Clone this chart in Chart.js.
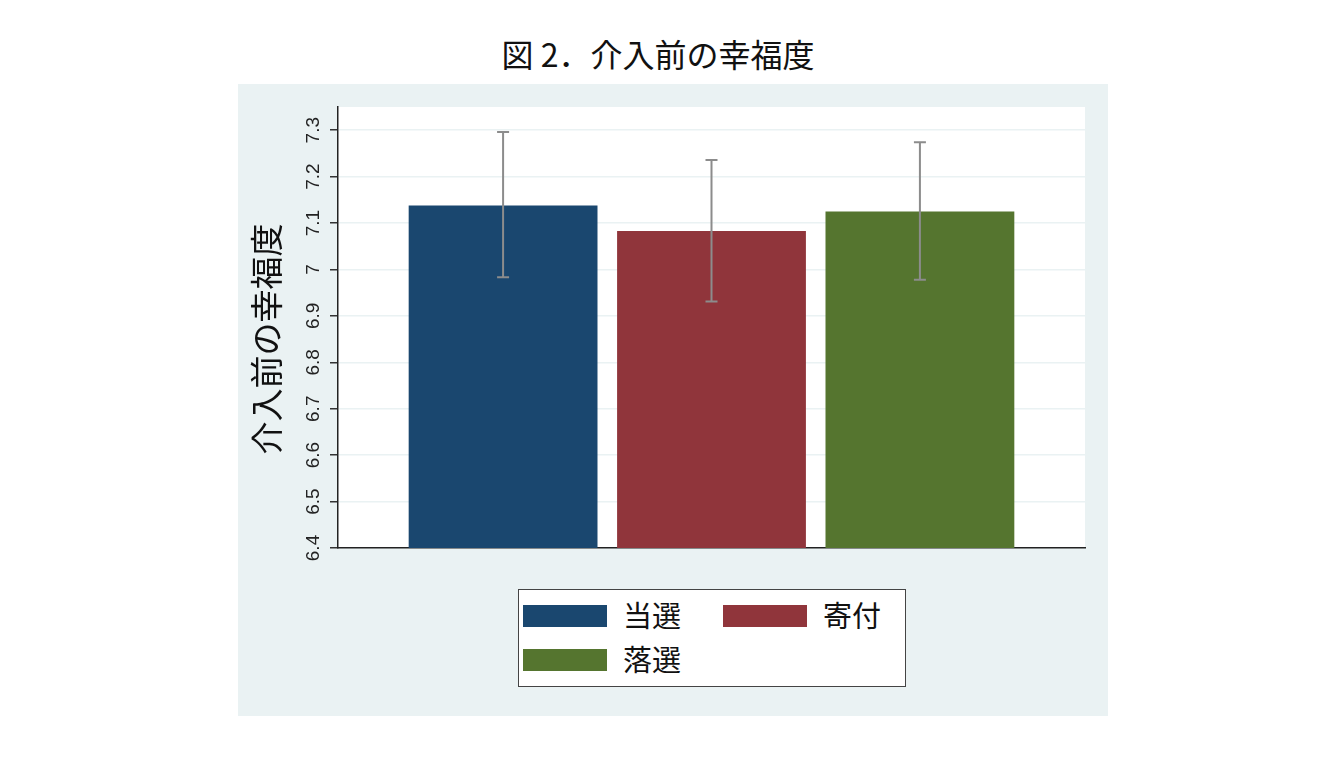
<!DOCTYPE html>
<html>
<head>
<meta charset="utf-8">
<script src="https://cdn.jsdelivr.net/npm/chart.js@4/dist/chart.umd.min.js"></script>
<style>
  body { margin: 0; background: #fff; width: 1343px; height: 761px; position: relative; overflow: hidden; }
  #title { position: absolute; left: 0; width: 1316px; top: 30px; text-align: center; font-family: "Noto Sans CJK JP"; font-size: 32px; color: #111; }
  #panel { position: absolute; left: 238px; top: 84px; width: 870px; height: 632px; background: #eaf2f3; }
  #legend { position: absolute; left: 518px; top: 589px; width: 386px; height: 96px; background: #fff; border: 1px solid #444; }
  .item { position: absolute; font-family: "Noto Sans CJK JP"; font-size: 29px; color: #111; line-height: 1; }
  .sw { position: absolute; width: 84px; height: 22px; }
</style>
</head>
<body>
<div id="title">図 2．介入前の幸福度</div>
<div id="panel"><canvas id="chart"></canvas></div>
<div id="legend"></div>
<script>
const groups = ['当選', '寄付', '落選'];
const means = [7.138, 7.083, 7.125];
const ciLow = [6.983, 6.931, 6.978];
const ciHigh = [7.296, 7.236, 7.274];
const colors = ['#1a476f', '#90353b', '#55752f'];
const yTickValues = [6.4, 6.5, 6.6, 6.7, 6.8, 6.9, 7.0, 7.1, 7.2, 7.3];
const yTickLabels = ['6.4', '6.5', '6.6', '6.7', '6.8', '6.9', '7', '7.1', '7.2', '7.3'];
const yTitle = '介入前の幸福度';

// white plot area + rotated tick labels + error bars
const plotStuff = {
    id: 'plotStuff',
    beforeDraw(c) {
        const a = c.chartArea;
        c.ctx.save();
        c.ctx.fillStyle = '#fff';
        c.ctx.fillRect(a.left, a.top, a.right - a.left, a.bottom - a.top);
        c.ctx.restore();
    },
    afterDatasetsDraw(c) {
        const ctx = c.ctx;
        const y = c.scales.y;
        ctx.save();
        ctx.strokeStyle = '#8c8c8c';
        ctx.lineWidth = 2;
        c.data.datasets.forEach((ds, i) => {
            const bar = c.getDatasetMeta(i).data[0];
            const lo = y.getPixelForValue(ciLow[i]);
            const hi = y.getPixelForValue(ciHigh[i]);
            ctx.beginPath();
            ctx.moveTo(bar.x, lo); ctx.lineTo(bar.x, hi);
            ctx.moveTo(bar.x - 6, lo); ctx.lineTo(bar.x + 6, lo);
            ctx.moveTo(bar.x - 6, hi); ctx.lineTo(bar.x + 6, hi);
            ctx.stroke();
        });
        ctx.restore();
    },
    afterDraw(c) {
        const ctx = c.ctx;
        const y = c.scales.y;
        const a = c.chartArea;
        ctx.save();
        ctx.fillStyle = '#222';
        ctx.font = '19px "Liberation Sans"';
        ctx.textAlign = 'center';
        ctx.textBaseline = 'middle';
        yTickValues.forEach((v, i) => {
            ctx.save();
            ctx.translate(a.left - 24, y.getPixelForValue(v));
            ctx.rotate(-Math.PI / 2);
            ctx.fillText(yTickLabels[i], 0, 0);
            ctx.restore();
        });
        ctx.font = '33px "Noto Sans CJK JP"';
        ctx.fillStyle = '#111';
        ctx.translate(a.left - 72, (y.getPixelForValue(6.4) + y.getPixelForValue(7.3)) / 2);
        ctx.rotate(-Math.PI / 2);
        ctx.fillText(yTitle, 0, 0);
        ctx.restore();
    }
};

function initChart() {
    const ctx = document.getElementById('chart');

    new Chart(ctx, {
        type: 'bar',
        data: {
            labels: [''],
            datasets: groups.map((g, i) => ({
                label: g,
                data: [means[i]],
                backgroundColor: colors[i],
                categoryPercentage: 0.837,
                barPercentage: 0.906
            }))
        },
        options: {
            responsive: true,
            maintainAspectRatio: false,
            animation: false,
            layout: { padding: { top: 23, right: 23, bottom: 168, left: 0 } },
            plugins: { legend: { display: false }, tooltip: { enabled: false } },
            scales: {
                x: {
                    ticks: { display: false },
                    grid: { display: false },
                    border: { display: true, color: '#222', width: 1.5 },
                    afterFit: s => { s.height = 0; }
                },
                y: {
                    min: 6.4,
                    max: 7.35,
                    afterBuildTicks: s => { s.ticks = yTickValues.map(v => ({ value: v })); },
                    ticks: { display: false },
                    grid: { color: '#eaf2f3', lineWidth: 1.5, tickLength: 8, tickColor: '#333' },
                    border: { color: '#222', width: 1.5 },
                    afterFit: s => { s.width = 100; }
                }
            }
        },
        plugins: [plotStuff]
    });
}

function buildLegend() {
    const box = document.getElementById('legend');
    const pos = [[4, 15], [204, 15], [4, 59]];
    groups.forEach((g, i) => {
        const sw = document.createElement('div');
        sw.className = 'sw';
        sw.style.left = pos[i][0] + 'px';
        sw.style.top = pos[i][1] + 'px';
        sw.style.background = colors[i];
        box.appendChild(sw);
        const t = document.createElement('div');
        t.className = 'item';
        t.innerText = g;
        t.style.left = (pos[i][0] + 100) + 'px';
        t.style.top = (pos[i][1] - 5) + 'px';
        box.appendChild(t);
    });
}

initChart();
buildLegend();
</script>
</body>
</html>
